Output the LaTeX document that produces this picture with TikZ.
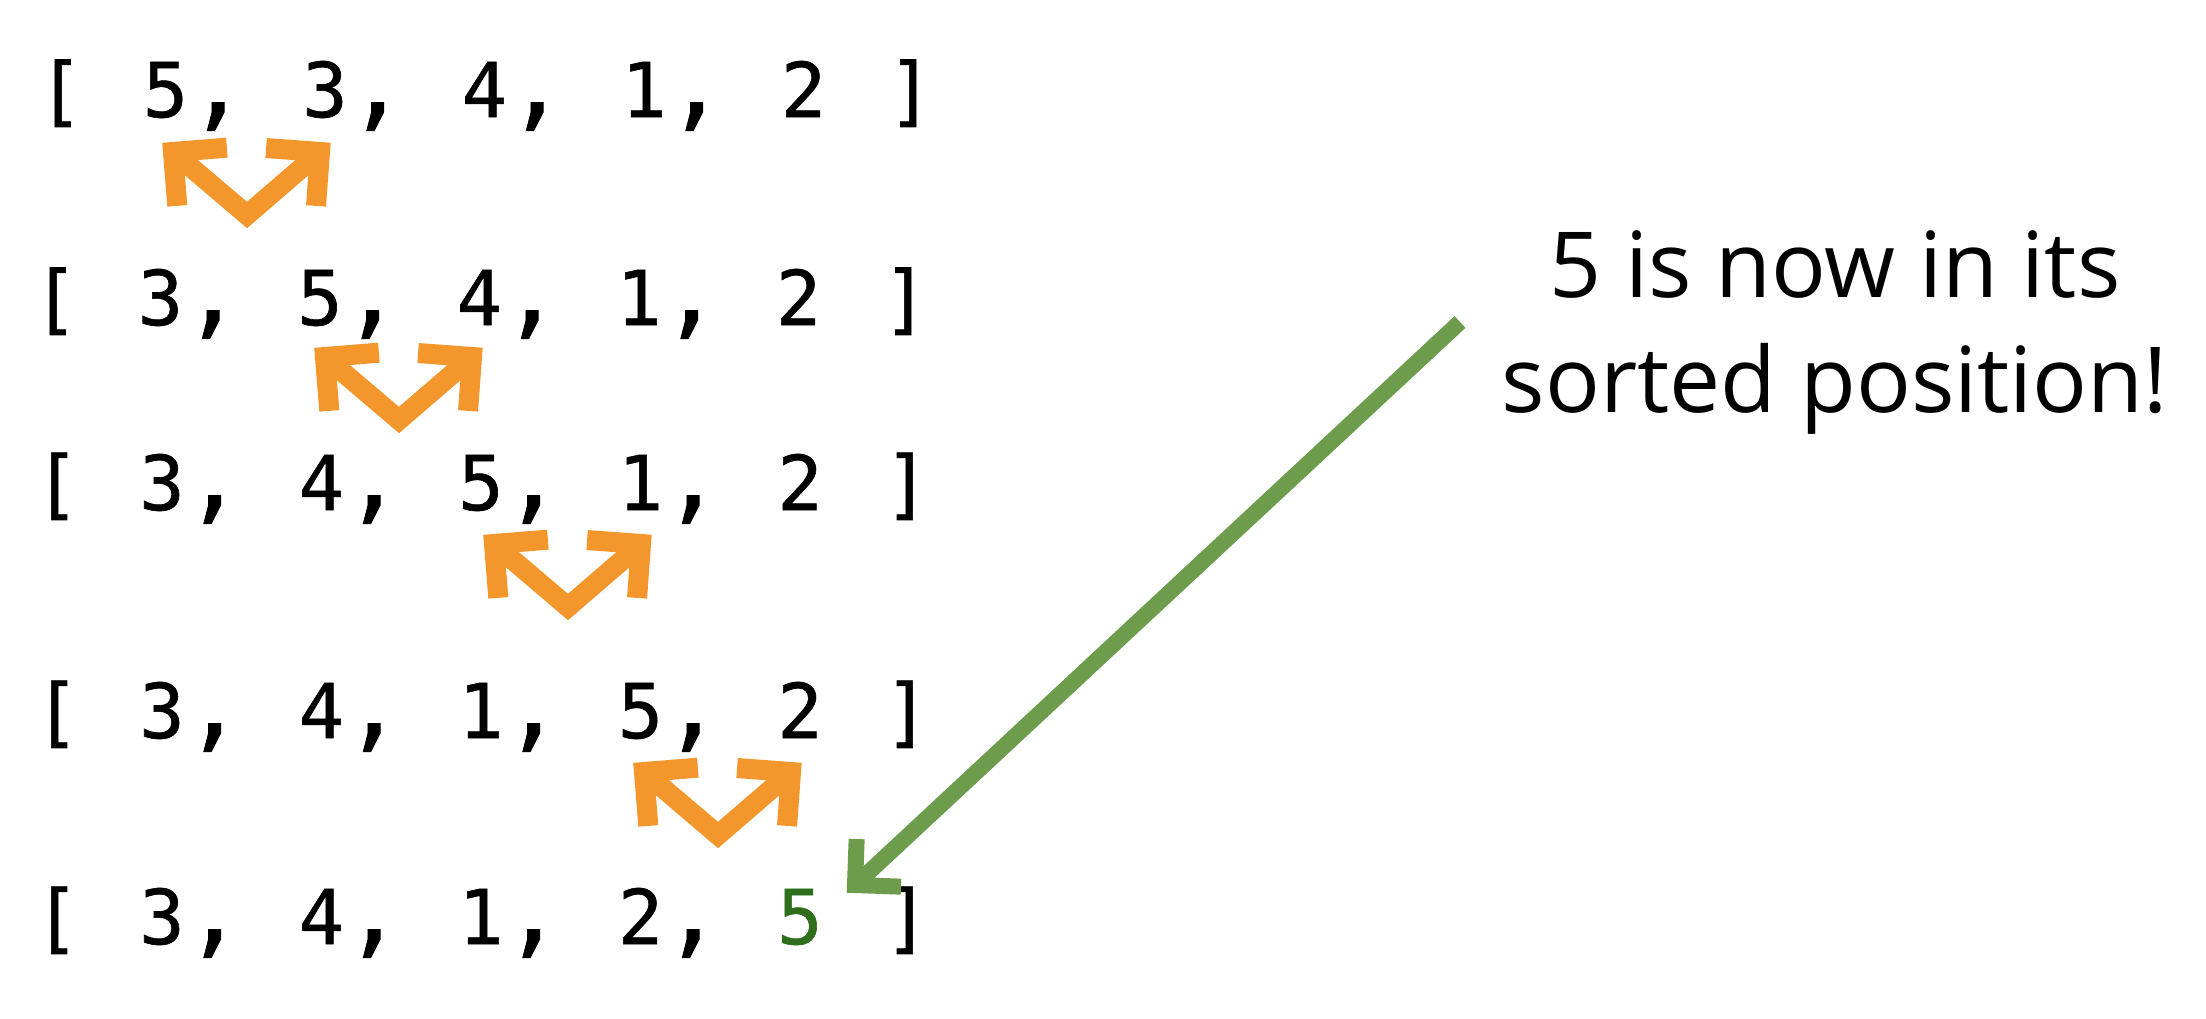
\documentclass[tikz,border=0pt]{standalone}
\usepackage{fontspec}
\setmainfont{Open Sans}
\newfontfamily\monofnt[FakeBold=0.8]{DejaVu Sans Mono}
\usetikzlibrary{calc}
\definecolor{swaporange}{HTML}{F3962B}
\definecolor{arrowgreen}{HTML}{6C9C4C}
\definecolor{digitgreen}{HTML}{2E6E1C}
% one printed list: name, baseline y, x shift, five entries
\newcommand\listrow[8]{%
  \node[listchar] (#1-b0) at (57+#3,#2) {[};
  \node[listchar] (#1-1) at (162+#3,#2) {#4};
  \node[commachar] (#1-c1) at (214+#3,#2) {,};
  \node[listchar] (#1-2) at (321.5+#3,#2) {#5};
  \node[commachar] (#1-c2) at (373.5+#3,#2) {,};
  \node[listchar] (#1-3) at (481+#3,#2) {#6};
  \node[commachar] (#1-c3) at (533+#3,#2) {,};
  \node[listchar] (#1-4) at (640.5+#3,#2) {#7};
  \node[commachar] (#1-c4) at (692.5+#3,#2) {,};
  \node[listchar] (#1-5) at (800+#3,#2) {#8};
  \node[listchar] (#1-b6) at (907+#3,#2) {]};
}
% swap arrows: name, outer vertex x, outer vertex y
\newcommand\swaparrow[3]{%
  \coordinate (#1-v) at (#2,#3-13);
  \coordinate (#1-l) at (#2-74,#3-76);
  \coordinate (#1-r) at (#2+73,#3-76);
  \draw[swapline] (#1-l) -- (#1-v) -- (#1-r);
  \draw[swapline] ($(#1-l)!0.54cm!45:(#1-v)$) -- (#1-l) -- ($(#1-l)!0.54cm!-45:(#1-v)$);
  \draw[swapline] ($(#1-r)!0.54cm!45:(#1-v)$) -- (#1-r) -- ($(#1-r)!0.54cm!-45:(#1-v)$);
}
\begin{document}
\begin{tikzpicture}[x=0.01cm,y=-0.01cm,
  listchar/.style={font={\monofnt\fontsize{21.5pt}{24pt}\selectfont}, anchor=base, inner sep=0pt, outer sep=0pt},
  commachar/.style={font={\monofnt\fontsize{28pt}{30pt}\selectfont}, anchor=base, inner sep=0pt, outer sep=0pt},
  note/.style={font={\fontsize{25.9pt}{30pt}\selectfont}, anchor=base, inner sep=0pt, outer sep=0pt},
  swapline/.style={draw=swaporange, line width=0.2cm, line join=miter, line cap=butt},
  greenline/.style={draw=arrowgreen, line width=0.16cm, line join=miter, line cap=butt}]
\fill[white] (0,0) rectangle (2206,1018);
\useasboundingbox (0,0) rectangle (2206,1018);

\listrow{r1}{117}{3.5}{5}{3}{4}{1}{2}
\listrow{r2}{325}{-1.5}{3}{5}{4}{1}{2}
\listrow{r3}{510}{0}{3}{4}{5}{1}{2}
\listrow{r4}{738}{0}{3}{4}{1}{5}{2}
\listrow{r5}{944}{0}{3}{4}{1}{2}{\textcolor{digitgreen}{5}}

\swaparrow{a1}{247}{228}
\swaparrow{a2}{399}{433}
\swaparrow{a3}{568}{620}
\swaparrow{a4}{718}{848}

\node[note] (note1) at (1835,297) {5 is now in its};
\node[note] (note2) at (1835,412) {sorted position!};

\coordinate (gstart) at (1460,322);
\coordinate (gtip) at (855,885);
\draw[greenline] (gstart) -- (gtip);
\draw[greenline] ($(gtip)!0.46cm!45:(gstart)$) -- (gtip) -- ($(gtip)!0.46cm!-45:(gstart)$);
\end{tikzpicture}
\end{document}
